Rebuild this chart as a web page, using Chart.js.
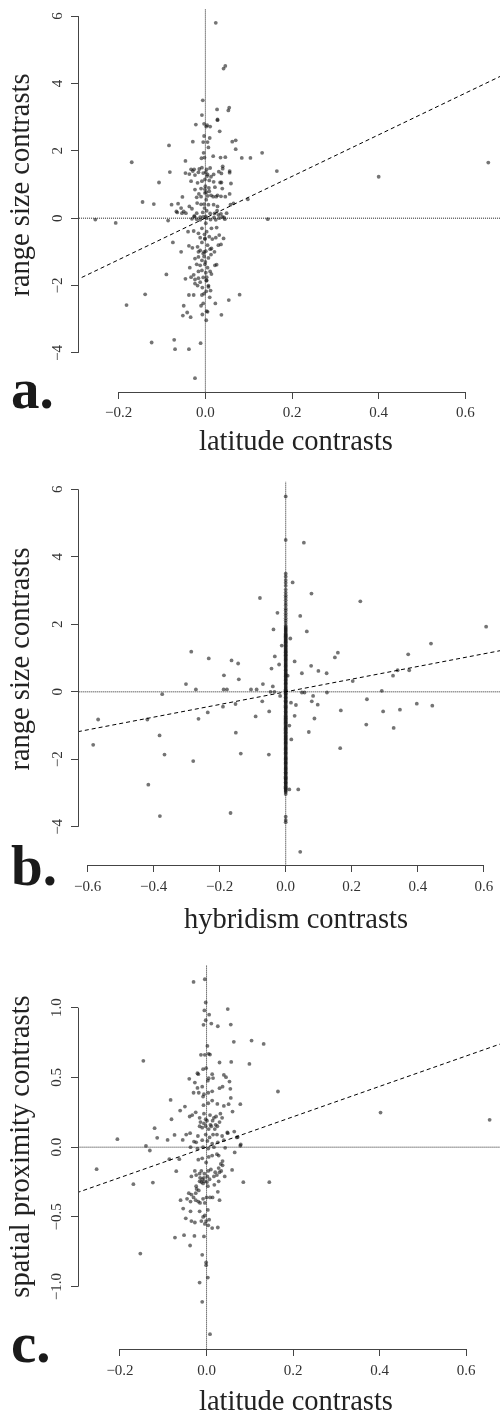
<!DOCTYPE html>
<html><head><meta charset="utf-8">
<script src="https://cdn.jsdelivr.net/npm/chart.js@4.4.1/dist/chart.umd.min.js"></script>
<style>
html,body{margin:0;padding:0;background:#fff;}
body{width:504px;height:1414px;position:relative;overflow:hidden;}
canvas{position:absolute;left:0;}
</style></head><body>
<canvas id="ca" width="504" height="465" style="top:0px;width:504px;height:465px"></canvas>
<canvas id="cb" width="504" height="475" style="top:465px;width:504px;height:475px"></canvas>
<canvas id="cc" width="504" height="474" style="top:940px;width:504px;height:474px"></canvas>
<script>
// ---------- DATA ----------
// Panel a: latitude contrasts (x) vs range size contrasts (y)
const panelA_points = [
[0.024,5.80],[0.046,4.52],[0.042,4.44],[0.653,1.65],[0.400,1.23],[-0.170,1.66],[-0.084,2.16],[-0.107,1.06],[-0.082,1.37],[-0.053,0.63],
[-0.006,3.50],[0.027,3.23],[0.055,3.28],[0.053,3.20],[-0.008,3.06],[0.028,2.93],[0.028,2.91],[-0.022,2.78],[-0.003,2.80],[0.004,2.76],
[0.002,2.72],[0.011,2.72],[0.033,2.58],[-0.003,2.44],[0.010,2.38],[-0.029,2.27],[-0.005,2.26],[0.005,2.26],[0.007,2.10],[0.062,2.27],
[0.070,2.31],[0.070,2.05],[0.084,1.79],[0.104,1.79],[0.131,1.94],[0.165,1.40],[0.018,1.84],[0.035,1.80],[0.046,1.81],[-0.009,1.78],
[-0.004,1.94],[-0.002,1.80],[-0.046,1.70],[0.040,1.54],[0.056,1.40],[-0.119,0.42],[0.098,0.56],
[-0.033,1.45],[-0.026,1.45],[-0.014,1.46],[-0.008,1.50],[0.003,1.45],[0.011,1.49],[0.001,1.37],[0.040,1.47],[0.056,1.35],
[-0.046,1.34],[-0.037,1.31],[-0.029,1.40],[-0.024,1.28],[-0.016,1.36],[-0.005,1.34],[0.005,1.30],[0.031,1.38],[0.037,1.33],[0.013,1.23],[0.019,1.30],
[-0.033,1.10],[-0.018,1.05],[-0.008,1.10],[-0.001,1.15],[0.009,1.12],[0.019,1.08],[0.034,1.06],[0.037,1.06],[0.059,1.03],
[-0.024,0.85],[-0.010,0.88],[-0.001,0.86],[0.008,0.90],[0.022,0.92],[0.039,0.88],[0.056,0.72],
[-0.015,0.72],[0.002,0.77],[0.009,0.80],[0.013,0.68],[0.028,0.68],
[-0.020,0.62],[-0.010,0.64],[0.005,0.66],[0.018,0.64],[0.025,0.64],[0.036,0.65],[0.046,0.64],
[-0.063,0.43],[-0.037,0.35],[-0.019,0.45],[-0.010,0.41],[-0.003,0.42],[0.007,0.40],[0.019,0.40],[0.028,0.35],[0.065,0.44],[0.058,0.40],
[-0.065,0.17],[-0.054,0.15],[-0.045,0.15],[-0.031,0.28],[-0.020,0.15],[-0.006,0.17],[0.003,0.22],[0.011,0.14],[0.021,0.14],[0.027,0.22],[0.036,0.13],[0.049,0.15],
[-0.026,0.06],[-0.012,0.03],[0.001,0.05],[0.020,0.02],[0.030,0.10],[0.043,0.02],
[0.000,0.95],[0.002,0.55],[-0.002,0.30],[0.001,-0.15],[-0.001,-0.60],[0.000,-1.30],[0.002,-1.85],[-0.001,0.75],[0.004,1.25],[-0.003,-1.00],
[-0.254,-0.04],[-0.207,-0.14],[0.144,-0.03],[-0.145,0.48],[-0.086,-0.07],[-0.078,0.40],[-0.067,0.20],[-0.056,0.30],[-0.050,0.20],
[-0.075,-0.72],[-0.056,-1.00],[-0.090,-1.67],[-0.139,-2.26],[-0.182,-2.58],[-0.124,-3.69],[-0.072,-3.61],[-0.070,-3.89],[-0.038,-3.89],[-0.011,-3.71],
[-0.024,-4.75],[0.079,-2.27],[0.054,-2.43],[0.023,-2.53],[0.037,-2.87],[-0.050,-2.60],[-0.052,-2.89],[-0.042,-2.80],[-0.034,-2.94],[-0.038,-2.28],
[-0.027,-2.28],[-0.008,-2.28],[-0.003,-2.24],[0.002,-2.17],[0.007,-2.04],[-0.010,-2.60],[-0.005,-2.53],[-0.007,-2.86],[0.003,-2.76],[0.005,-2.78],
[0.002,-3.03],[0.010,-2.35],[0.012,-2.15],
[-0.031,-0.02],[-0.025,0.05],[-0.020,-0.03],[-0.012,-0.05],[-0.005,0.04],[0.003,0.00],[0.012,-0.04],[0.024,-0.05],[0.032,0.00],[0.039,0.04],[0.045,-0.03],
[-0.040,-0.40],[-0.027,-0.38],[-0.016,-0.45],[-0.008,-0.30],[-0.002,-0.48],[0.003,-0.40],[0.014,-0.30],[0.026,-0.28],[0.032,-0.50],
[-0.012,-0.58],[-0.001,-0.62],[0.009,-0.55],[0.016,-0.62],[0.024,-0.58],[0.042,-0.60],
[-0.038,-0.82],[-0.030,-0.88],[-0.018,-0.85],[-0.008,-0.72],[0.005,-0.80],[0.014,-0.90],[0.030,-0.80],[0.036,-0.78],
[-0.016,-1.00],[-0.012,-0.96],[-0.005,-1.05],[0.001,-0.98],[0.011,-0.92],[0.021,-1.00],
[-0.024,-1.20],[-0.016,-1.15],[-0.008,-1.25],[-0.003,-1.14],[0.007,-1.18],[0.013,-1.08],
[-0.020,-1.37],[-0.012,-1.40],[-0.001,-1.37],[0.005,-1.47],[0.022,-1.40],[0.026,-1.38],
[-0.036,-1.47],[-0.016,-1.58],[-0.008,-1.55],[0.001,-1.62],[0.011,-1.58],[0.014,-1.66],
[-0.046,-1.80],[-0.033,-1.75],[-0.027,-1.68],[-0.024,-1.82],[-0.016,-1.78],[-0.005,-1.76],[0.003,-1.75],
[-0.024,-1.94],[-0.018,-2.00],[-0.012,-1.90],[-0.007,-2.06],[0.003,-1.85],[0.007,-2.00]
];
const panelA_fit = [[-0.30,-1.85],[0.70,4.33]];
const panelA_xTicks = [-0.2,0.0,0.2,0.4,0.6];
const panelA_yTicks = [-4,-2,0,2,4,6];

// Panel b: hybridism contrasts (x) vs range size contrasts (y)
const panelB_points = [
[0.055,4.42],[0.021,3.24],[0.078,2.91],[-0.078,2.78],[0.226,2.68],[-0.025,2.34],[0.044,2.25],[-0.037,1.85],[0.064,1.79],[0.607,1.93],
[0.014,1.58],[-0.286,1.19],[-0.233,0.99],[-0.164,0.93],[-0.144,0.84],[-0.012,1.37],[-0.033,1.05],[-0.020,0.81],[-0.043,0.69],[0.027,0.90],
[0.077,0.77],[0.099,0.62],[0.124,0.55],[0.049,0.55],[0.006,0.48],[0.149,1.02],[0.158,1.16],[0.371,1.11],[0.440,1.43],[0.325,0.48],
[0.339,0.64],[0.374,0.64],[0.203,0.32],[-0.187,0.49],[-0.142,0.37],[-0.302,0.23],[-0.069,0.23],[-0.039,0.16],
[-0.272,0.07],[-0.188,0.07],[-0.178,0.07],[-0.105,0.07],[-0.088,0.07],[0.291,0.03],
[-0.374,-0.07],[0.125,-0.02],[-0.046,0.00],[-0.034,0.00],[-0.017,-0.12],[0.016,-0.32],[0.031,-0.39],[0.049,-0.02],[0.057,-0.02],[0.079,-0.28],
[0.083,-0.12],[0.097,-0.38],[0.246,-0.22],[0.167,-0.55],[0.295,-0.58],[0.346,-0.53],[0.397,-0.35],[0.444,-0.41],[0.027,-0.71],[0.087,-0.79],
[0.011,-1.00],[0.244,-0.97],[0.327,-1.07],[0.070,-1.19],[0.017,-1.41],[0.165,-1.67],[-0.568,-0.82],[-0.419,-0.82],[-0.264,-0.80],[-0.236,-0.61],
[-0.190,-0.44],[-0.152,-0.36],[-0.071,-0.28],[-0.050,-0.58],[-0.091,-0.73],[-0.151,-1.21],[-0.382,-1.29],[-0.583,-1.57],[-0.367,-1.86],[-0.136,-1.83],
[-0.051,-1.86],[-0.280,-2.05],[-0.416,-2.75],[0.011,-2.89],[0.038,-2.89],[-0.381,-3.68],[-0.167,-3.59],[0.044,-4.74]
];
// pairs with zero hybridism contrast (all at x = 0)
const panelB_zeroY = [
5.79,4.50,3.50,3.41,3.31,3.23,3.14,3.03,2.94,2.86,2.79,2.71,2.63,2.56,2.47,2.41,2.33,2.26,2.18,2.11,2.04,1.96,1.89,1.83,1.77,1.70,1.65,1.58,1.52,1.47,
1.40,1.35,1.28,1.22,1.17,1.10,1.05,0.98,0.93,0.86,0.80,0.75,0.68,0.63,0.56,0.50,0.45,0.38,0.33,0.26,0.21,0.14,0.08,0.03,-0.04,-0.09,-0.16,-0.21,-0.28,-0.33,
-0.40,-0.46,-0.51,-0.58,-0.63,-0.70,-0.76,-0.81,-0.88,-0.93,-1.00,-1.06,-1.11,-1.18,-1.23,-1.30,-1.36,-1.41,-1.48,-1.53,-1.60,-1.66,-1.71,-1.78,-1.83,
-1.90,-1.96,-2.01,-2.08,-2.13,-2.20,-2.26,-2.31,-2.38,-2.43,-2.50,-2.56,-2.61,-2.68,-2.73,-2.80,-2.86,-2.91,-2.97,-3.03,-3.70,-3.80,-3.86,
1.92,1.86,1.80,1.73,1.67,1.62,1.55,1.49,1.44,1.37,1.31,1.25,1.19,1.13,1.08,1.01,0.95,0.89,0.83,0.77,0.71,0.65,0.59,0.53,0.47,0.41,0.35,0.29,0.24,0.17,
0.11,0.05,0.00,-0.06,-0.12,-0.18,-0.25,-0.30,-0.36,-0.43,-0.48,-0.54,-0.60,-0.66,-0.72,-0.78,-0.84,-0.90,-0.96,-1.03,-1.08,-1.14,-1.20,-1.27,-1.32,
-1.38,-1.44,-1.50,-1.56,-1.63,-1.68,-1.74,-1.80,-1.86,-1.93,-1.98,-2.04,-2.10,-2.16,-2.23,-2.28,-2.34,-2.40,-2.46,-2.53,-2.58,-2.64,-2.70,-2.76,-2.83,-2.88,-2.94
];
const panelB_fit = [[-0.65,-1.22],[0.65,1.22]];
const panelB_xTicks = [-0.6,-0.4,-0.2,0.0,0.2,0.4,0.6];
const panelB_yTicks = [-4,-2,0,2,4,6];

// Panel c: latitude contrasts (x) vs spatial proximity contrasts (y)
const panelC_points = [
[-0.030,1.185],[-0.004,1.204],[-0.002,1.037],[-0.005,0.98],[0.006,0.95],[0.049,0.99],[-0.007,0.877],[-0.002,0.91],[0.011,0.886],[0.026,0.867],
[0.056,0.879],[0.063,0.755],[0.104,0.764],[0.132,0.740],[-0.146,0.619],[0.002,0.726],[0.005,0.669],[-0.013,0.662],[-0.004,0.662],[0.008,0.664],
[0.030,0.607],[0.057,0.611],[0.099,0.597],[0.165,0.399],[0.402,0.248],[0.654,0.196],[-0.206,0.057],[-0.140,0.009],[-0.131,-0.024],[-0.120,0.136],
[-0.114,0.067],[-0.090,0.052],[-0.083,0.339],[-0.081,0.200],[-0.074,0.088],[-0.055,0.052],[-0.061,0.262],[-0.050,0.291],
[-0.008,0.559],[-0.001,0.566],[-0.040,0.49],[-0.021,0.530],[-0.019,0.523],[0.013,0.523],[0.015,0.495],
[-0.027,0.463],[-0.021,0.425],[-0.010,0.434],[0.005,0.494],[0.003,0.477],[0.040,0.518],[0.045,0.502],[0.053,0.47],[0.055,0.418],[0.030,0.423],[0.037,0.434],
[-0.030,0.39],[-0.018,0.39],[-0.006,0.38],[0.004,0.39],[0.013,0.40],
[-0.008,0.363],[-0.007,0.301],[0.004,0.315],[0.013,0.334],[0.025,0.31],[0.040,0.296],[0.051,0.308],[0.056,0.353],[0.078,0.308],[0.060,0.255],
[-0.039,0.22],[-0.033,0.23],[-0.025,0.25],[-0.016,0.21],[-0.006,0.24],[-0.002,0.20],[0.008,0.23],[0.017,0.21],[0.022,0.22],[0.032,0.24],[0.036,0.21],
[-0.014,0.18],[-0.006,0.17],[0.001,0.19],[0.009,0.16],[0.014,0.19],[0.021,0.16],[0.030,0.18],
[-0.016,0.15],[-0.010,0.14],[-0.002,0.15],[0.005,0.13],[0.011,0.15],[0.019,0.13],[0.025,0.15],
[-0.047,0.09],[-0.038,0.10],[-0.020,0.08],[-0.002,0.09],[0.007,0.07],[0.015,0.09],[0.024,0.09],[0.036,0.08],[0.049,0.10],
[-0.029,0.04],[-0.024,0.035],[-0.010,0.05],[0.002,0.045],[0.013,0.025],[0.026,0.035],[0.040,0.05],[0.070,0.07],
[-0.037,0.00],[-0.021,-0.01],[-0.008,0.00],[0.004,-0.01],[0.017,0.00],[0.043,-0.005],[0.078,0.01],
[0.072,0.072],[0.079,0.019],[0.048,0.105],[0.064,0.112],
[-0.254,-0.158],[-0.169,-0.265],[-0.124,-0.254],[0.085,-0.251],[0.145,-0.251],[-0.086,-0.086],[-0.063,-0.086],[0.065,-0.038],
[-0.019,-0.09],[-0.010,-0.08],[-0.001,-0.11],[0.005,-0.07],[0.013,-0.06],[0.024,-0.05],[0.028,-0.06],[0.033,-0.12],[0.037,-0.10],
[-0.070,-0.172],[0.059,-0.163],
[-0.027,-0.17],[-0.016,-0.19],[-0.012,-0.17],[-0.005,-0.19],[0.004,-0.17],[0.010,-0.16],[0.020,-0.18],[0.028,-0.15],[0.034,-0.17],[0.037,-0.13],
[-0.035,-0.21],[-0.024,-0.20],[-0.015,-0.22],[-0.010,-0.23],[-0.006,-0.22],[0.002,-0.21],[0.017,-0.21],[0.024,-0.20],[0.030,-0.18],[0.042,-0.21],
[-0.016,-0.245],[-0.012,-0.25],[-0.008,-0.26],[-0.005,-0.245],[0.001,-0.25],[0.007,-0.23],[0.028,-0.245],
[-0.024,-0.28],[-0.023,-0.30],[-0.018,-0.31],[0.003,-0.28],[0.018,-0.27],[0.026,-0.32],[0.014,-0.36],
[-0.041,-0.33],[-0.035,-0.34],[-0.030,-0.36],[-0.025,-0.33],[-0.008,-0.37],[0.000,-0.36],[0.008,-0.36],
[-0.060,-0.38],[-0.045,-0.37],[-0.037,-0.39],[-0.025,-0.38],[-0.019,-0.39],[-0.004,-0.40],[-0.015,-0.40],[0.030,-0.38],
[-0.054,-0.44],[-0.037,-0.46],[-0.016,-0.46],[0.003,-0.45],[-0.008,-0.50],[-0.004,-0.49],[-0.001,-0.53],
[-0.048,-0.51],[-0.035,-0.53],[-0.027,-0.54],[-0.012,-0.53],[-0.004,-0.55],[0.006,-0.52],[0.004,-0.56],[0.013,-0.58],[0.026,-0.576],
[-0.073,-0.648],[-0.052,-0.631],[-0.028,-0.636],[-0.006,-0.64],[-0.038,-0.705],[-0.010,-0.772],[-0.001,-0.827],[-0.001,-0.846],[0.003,-0.935],
[-0.016,-0.971],[-0.010,-1.109],[0.008,-1.341],[-0.153,-0.763]
];
const panelC_fit = [[-0.30,-0.327],[0.70,0.763]];
const panelC_xTicks = [-0.2,0.0,0.2,0.4,0.6];
const panelC_yTicks = [-1.0,-0.5,0.0,0.5,1.0];

// ---------- RENDERING ----------
const SERIF = '"Liberation Serif", "Times New Roman", serif';
const fmt = (d) => (v) => (v < 0 ? '\u2212' : '') + Math.abs(v).toFixed(d);

const panelPlugin = {
  id: 'panelText',
  afterDraw(chart, args, o) {
    const ctx = chart.ctx, ca = chart.chartArea;
    const xs = chart.scales.x, ys = chart.scales.y;
    ctx.save();
    ctx.strokeStyle = '#444'; ctx.lineWidth = 1;
    ctx.beginPath();
    const yt = o.yTicks, xt = o.xTicks;
    const lx = Math.round(ca.left) + 0.5;
    ctx.moveTo(lx, ys.getPixelForValue(yt[0]));
    ctx.lineTo(lx, ys.getPixelForValue(yt[yt.length - 1]));
    const by = Math.round(ca.bottom) + 0.5;
    ctx.moveTo(xs.getPixelForValue(xt[0]), by);
    ctx.lineTo(xs.getPixelForValue(xt[xt.length - 1]), by);
    ctx.stroke();
    ctx.fillStyle = '#222';
    ctx.font = '28.5px ' + SERIF;
    ctx.textAlign = 'center'; ctx.textBaseline = 'alphabetic';
    ctx.fillText(o.xTitle, o.xTitleX, o.xTitleY);
    ctx.save();
    ctx.translate(o.yTitleX, o.yTitleY);
    ctx.rotate(-Math.PI / 2);
    ctx.fillText(o.yTitle, 0, 0);
    ctx.restore();
    ctx.font = 'bold 57px ' + SERIF;
    ctx.textAlign = 'left';
    ctx.fillStyle = '#1a1a1a';
    ctx.fillText(o.letter, o.letterX, o.letterY);
    ctx.restore();
  }
};

function makePanel(id, c) {
  const pts = c.points.map(p => ({x: p[0], y: p[1]}));
  const ds = [
    {data: c.fit.map(p => ({x: p[0], y: p[1]})), showLine: true, borderColor: '#000', borderWidth: 1, borderDash: [4, 3], pointRadius: 0, fill: false},
    {data: [{x: 0, y: -50}, {x: 0, y: 50}], showLine: true, borderColor: '#222', borderWidth: 1, borderDash: [1, 1], pointRadius: 0, fill: false},
    {data: [{x: -5, y: 0}, {x: 5, y: 0}], showLine: true, borderColor: '#222', borderWidth: 1, borderDash: [1, 1], pointRadius: 0, fill: false},
    {data: pts, showLine: false, pointRadius: 1.9, pointBackgroundColor: 'rgba(15,15,15,0.58)', pointBorderWidth: 0}
  ];
  new Chart(document.getElementById(id), {
    type: 'scatter',
    data: {datasets: ds},
    options: {
      responsive: false, animation: false, events: [],
      layout: {padding: {top: c.top, left: 0, right: 0, bottom: 0}},
      plugins: {legend: {display: false}, tooltip: {enabled: false}, panelText: c.text},
      scales: {
        x: {
          type: 'linear', position: 'bottom', min: c.xMin, max: c.xMax,
          afterBuildTicks: s => { s.ticks = c.text.xTicks.map(v => ({value: v})); },
          afterFit: s => { s.height = c.xh; s.paddingLeft = 0; s.paddingRight = 0; },
          ticks: {callback: fmt(1), font: {family: SERIF, size: 15}, color: '#333', padding: c.xPad, minRotation: 0, maxRotation: 0, autoSkip: false},
          grid: {drawOnChartArea: false, drawTicks: true, tickLength: 7, color: '#444', tickWidth: 1},
          border: {display: false}
        },
        y: {
          type: 'linear', position: 'left', min: c.yMin, max: c.yMax,
          afterBuildTicks: s => { s.ticks = c.text.yTicks.map(v => ({value: v})); },
          afterFit: s => { s.width = 78; s.paddingTop = 0; s.paddingBottom = 0; },
          ticks: {callback: fmt(c.yDec), font: {family: SERIF, size: 15}, color: '#333', padding: c.yPad, minRotation: 90, maxRotation: 90, crossAlign: 'center', autoSkip: false},
          grid: {drawOnChartArea: false, drawTicks: true, tickLength: 7, color: '#444', tickWidth: 1},
          border: {display: false}
        }
      }
    },
    plugins: [panelPlugin]
  });
}

makePanel('ca', {
  points: panelA_points, fit: panelA_fit,
  xMin: -0.294, xMax: 0.680, yMin: -5.16, yMax: 6.21,
  top: 9, xh: 73, xPad: 5, yPad: 5, yDec: 0,
  text: {xTicks: panelA_xTicks, yTicks: panelA_yTicks, xTitle: 'latitude contrasts', xTitleX: 296, xTitleY: 450,
         yTitle: 'range size contrasts', yTitleX: 29, yTitleY: 185, letter: 'a.', letterX: 11, letterY: 408}
});

const panelB_all = panelB_points.concat(panelB_zeroY.map(v => [0, v]));
makePanel('cb', {
  points: panelB_all, fit: panelB_fit,
  xMin: -0.629, xMax: 0.649, yMin: -5.13, yMax: 6.225,
  top: 16.7, xh: 75, xPad: 6, yPad: 5, yDec: 0,
  text: {xTicks: panelB_xTicks, yTicks: panelB_yTicks, xTitle: 'hybridism contrasts', xTitleX: 296, xTitleY: 463,
         yTitle: 'range size contrasts', yTitleX: 29, yTitleY: 194, letter: 'b.', letterX: 11, letterY: 420}
});

makePanel('cc', {
  points: panelC_points, fit: panelC_fit,
  xMin: -0.297, xMax: 0.678, yMin: -1.447, yMax: 1.306,
  top: 25, xh: 65, xPad: 6, yPad: 0, yDec: 1,
  text: {xTicks: panelC_xTicks, yTicks: panelC_yTicks, xTitle: 'latitude contrasts', xTitleX: 296, xTitleY: 470,
         yTitle: 'spatial proximity contrasts', yTitleX: 29, yTitleY: 206.5, letter: 'c.', letterX: 11, letterY: 421.7}
});
</script></body></html>
